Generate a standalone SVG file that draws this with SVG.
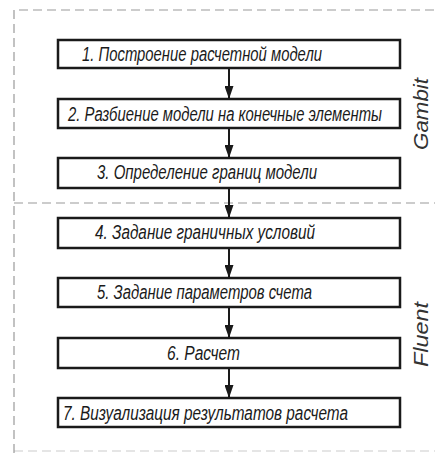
<svg xmlns="http://www.w3.org/2000/svg" width="435" height="453" viewBox="0 0 435 453">
<style>
.frame{fill:none;stroke:#9a9a9a;stroke-width:1.2;stroke-dasharray:9 5}
.box{fill:#fff;stroke:#1a1a1a;stroke-width:2.5}
.lbl{font-family:"Liberation Sans",Arial,sans-serif;font-style:italic;font-size:17px;fill:#1a1a1a}
.side{font-family:"Liberation Sans",Arial,sans-serif;font-style:italic;font-size:21px;fill:#333}
.conn{stroke:#1a1a1a;stroke-width:2;fill:none;marker-end:url(#ah)}
</style>
<defs>
<marker id="ah" markerWidth="13" markerHeight="9" refX="13" refY="4.5" orient="auto" markerUnits="userSpaceOnUse" viewBox="0 0 13 9">
<path d="M0,0 L13,4.5 L0,9 Z" fill="#1a1a1a"/>
</marker>
</defs>
<rect width="435" height="453" fill="#fff"/>
<g id="frame">
<path class="frame" d="M14,453 L14,10 L435,10"/>
<path class="frame" d="M14,203 L435,203"/>
<path class="frame" d="M14,451 L435,451" stroke-opacity="0.5"/>
</g>
<g id="connectors">
<line class="conn" x1="229" y1="68" x2="229" y2="99"/>
<line class="conn" x1="229" y1="128" x2="229" y2="158"/>
<line class="conn" x1="229" y1="188" x2="229" y2="218"/>
<line class="conn" x1="229" y1="248" x2="229" y2="278"/>
<line class="conn" x1="229" y1="307" x2="229" y2="338"/>
<line class="conn" x1="229" y1="368" x2="229" y2="398"/>
</g>
<g id="n1"><rect class="box" x="58" y="40" width="342" height="28"/><text class="lbl" transform="translate(82,61) scale(1,1.15)" textLength="240" lengthAdjust="spacingAndGlyphs">1. Построение расчетной модели</text></g>
<g id="n2"><rect class="box" x="58" y="99" width="342" height="29"/><text class="lbl" transform="translate(68,120.5) scale(1,1.15)" textLength="314" lengthAdjust="spacingAndGlyphs">2. Разбиение модели на конечные элементы</text></g>
<g id="n3"><rect class="box" x="58" y="158" width="342" height="30"/><text class="lbl" transform="translate(97,179) scale(1,1.15)" textLength="220" lengthAdjust="spacingAndGlyphs">3. Определение границ модели</text></g>
<g id="n4"><rect class="box" x="58" y="218" width="342" height="30"/><text class="lbl" transform="translate(95,239) scale(1,1.15)" textLength="220" lengthAdjust="spacingAndGlyphs">4. Задание граничных условий</text></g>
<g id="n5"><rect class="box" x="58" y="278" width="342" height="29"/><text class="lbl" transform="translate(97,299) scale(1,1.15)" textLength="215" lengthAdjust="spacingAndGlyphs">5. Задание параметров счета</text></g>
<g id="n6"><rect class="box" x="58" y="338" width="342" height="30"/><text class="lbl" transform="translate(167,360) scale(1,1.15)" textLength="73" lengthAdjust="spacingAndGlyphs">6. Расчет</text></g>
<g id="n7"><rect class="box" x="58" y="398" width="342" height="29"/><text class="lbl" transform="translate(63,420) scale(1,1.15)" textLength="285" lengthAdjust="spacingAndGlyphs">7. Визуализация результатов расчета</text></g>
<g id="gambit"><text class="side" transform="translate(428,150) rotate(-90)" textLength="72" lengthAdjust="spacingAndGlyphs">Gambit</text></g>
<g id="fluent"><text class="side" transform="translate(428,367) rotate(-90)" textLength="65" lengthAdjust="spacingAndGlyphs">Fluent</text></g>
</svg>
